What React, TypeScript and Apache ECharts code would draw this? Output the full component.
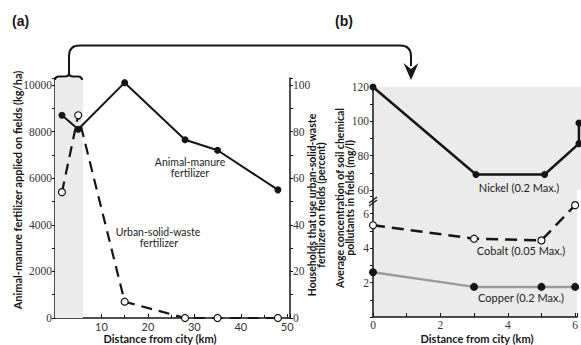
import React, { useEffect, useRef } from 'react';
import * as echarts from 'echarts';

// ---- Panel (a) data ----
const distA = [1.5, 5, 15, 28, 35, 48];
const manureKgHa = [8700, 8100, 10100, 7650, 7200, 5500];
const urbanWastePct = [54, 87, 7, 0, 0, 0];
const shadeA = [0, 6];

// ---- Panel (b) data ----
const distNickel = [0, 3, 5, 6, 6];
const nickel = [120, 69, 69, 87, 99];
const distB = [0, 3, 5, 6];
const cobalt = [5.33, 4.55, 4.45, 6.5];
const copper = [2.6, 1.75, 1.75, 1.75];

const labelsA_left = [0, 2000, 4000, 6000, 8000, 10000];
const labelsA_right = [0, 20, 40, 60, 80, 100];
const labelsA_x = [10, 20, 30, 40, 50];
const labelsB_upper = [60, 80, 100, 120];
const labelsB_lower = [2, 4, 6];
const labelsB_x = [0, 2, 4, 6];

const SANS = "Lato, 'Open Sans', 'Noto Sans', sans-serif";
const SERIF = "'Liberation Serif', 'DejaVu Serif', serif";
const INK = '#151515';
const SHADE = '#ebebeb';

const pick = (list: number[]) => (v: number) =>
  list.some((x) => Math.abs(x - v) < 1e-6) ? String(v) : '';

const axisLine = { show: true, lineStyle: { color: INK, width: 1.5 } };

echarts.graphic.registerShape(
  'braceConnector',
  echarts.graphic.extendPath(
    'M55,80 Q55,76.5 59,76.5 L65,76.5 Q69,76.5 69,73 Q69,76.5 73,76.5 L78,76.5 Q82,76.5 82,80 M69,73 L69,56 Q69,45.5 79.5,45.5 L400,45.5 Q411,45.5 411,56 L411,66',
    {}
  ) as any
);

const note = (text: string, x: number, y: number, size = 11) => ({
  type: 'text', x, y, z: 20,
  style: { text, fontFamily: SANS, fontSize: size, fill: '#222', align: 'center', verticalAlign: 'middle' },
});

const vTitle = (text: string, x: number, y: number, size = 10.5) => ({
  type: 'text', x, y, rotation: Math.PI / 2, z: 20,
  style: { text, fontFamily: SANS, fontWeight: 'bold', fontSize: size, fill: INK, align: 'center', verticalAlign: 'middle' },
});

export default function App() {
  const ref = useRef<HTMLDivElement>(null);
  useEffect(() => {
    if (!ref.current) return;
    const chart = echarts.init(ref.current, undefined, { renderer: 'svg' });
    const option: any = {
      animation: false,
      backgroundColor: '#ffffff',
      grid: [
        { left: 55, top: 78, width: 235, height: 240 },
        { left: 373, top: 87, width: 208, height: 103, show: true, backgroundColor: SHADE, borderWidth: 0 },
        { left: 373, top: 190, width: 208, height: 127, show: true, backgroundColor: SHADE, borderWidth: 0 },
      ],
      xAxis: [
        {
          gridIndex: 0, type: 'value', min: 0, max: 50.6, interval: 10,
          axisLine, splitLine: { show: false },
          axisTick: { show: true, inside: true, length: 4, lineStyle: { color: INK } },
          minorTick: { show: true, splitNumber: 2, length: 3, lineStyle: { color: INK } },
          axisLabel: { margin: 3, fontFamily: SANS, fontSize: 11, color: '#333', formatter: pick(labelsA_x) },
        },
        { gridIndex: 1, type: 'value', min: 0, max: 6.06, show: false },
        {
          gridIndex: 2, type: 'value', min: 0, max: 6.06, interval: 1,
          axisLine, splitLine: { show: false },
          axisTick: { show: true, inside: true, length: 4, lineStyle: { color: INK } },
          axisLabel: { margin: 2, fontFamily: SERIF, fontSize: 11.5, color: '#333', formatter: pick(labelsB_x) },
        },
      ],
      yAxis: [
        {
          gridIndex: 0, type: 'value', position: 'left', min: 0, max: 10300, interval: 1000,
          axisLine, splitLine: { show: false },
          axisTick: { show: true, length: 3, lineStyle: { color: INK } },
          axisLabel: { margin: 3, fontFamily: SERIF, fontSize: 11.5, color: '#333', formatter: pick(labelsA_left) },
        },
        {
          gridIndex: 0, type: 'value', position: 'right', min: 0, max: 103, interval: 10,
          axisLine, splitLine: { show: false },
          axisTick: { show: true, length: 3, lineStyle: { color: INK } },
          axisLabel: { margin: 3, fontFamily: SERIF, fontSize: 11.5, color: '#333', formatter: pick(labelsA_right) },
        },
        {
          gridIndex: 1, type: 'value', position: 'left', min: 60, max: 120, interval: 10,
          axisLine, splitLine: { show: false },
          axisTick: { show: true, length: 3, lineStyle: { color: INK } },
          axisLabel: { margin: 4, fontFamily: SERIF, fontSize: 11.5, color: '#333', formatter: pick(labelsB_upper) },
        },
        {
          gridIndex: 2, type: 'value', position: 'left', min: 0, max: 7.38, interval: 1,
          axisLine, splitLine: { show: false },
          axisTick: { show: true, length: 3, lineStyle: { color: INK } },
          axisLabel: { margin: 4, fontFamily: SERIF, fontSize: 11.5, color: '#333', formatter: pick(labelsB_lower) },
        },
      ],
      series: [
        {
          name: 'Animal-manure fertilizer', type: 'line', xAxisIndex: 0, yAxisIndex: 0,
          data: distA.map((d, i) => [d, manureKgHa[i]]),
          symbol: 'circle', symbolSize: 7,
          lineStyle: { color: INK, width: 2 }, itemStyle: { color: INK }, z: 4,
          markArea: {
            silent: true, itemStyle: { color: SHADE },
            data: [[{ xAxis: shadeA[0] }, { xAxis: shadeA[1] }]],
          },
        },
        {
          name: 'Urban-solid-waste fertilizer', type: 'line', xAxisIndex: 0, yAxisIndex: 1,
          data: distA.map((d, i) => [d, urbanWastePct[i]]),
          symbol: 'circle', symbolSize: 7,
          lineStyle: { color: INK, width: 2.2, type: [11, 7] },
          itemStyle: { color: '#ffffff', borderColor: INK, borderWidth: 1.2 }, z: 5,
        },
        {
          name: 'Nickel', type: 'line', xAxisIndex: 1, yAxisIndex: 2, clip: false,
          data: distNickel.map((d, i) => [d, nickel[i]]),
          symbol: 'circle', symbolSize: 7,
          lineStyle: { color: INK, width: 2.5 }, itemStyle: { color: INK },
        },
        {
          name: 'Copper', type: 'line', xAxisIndex: 2, yAxisIndex: 3, clip: false,
          data: distB.map((d, i) => [d, copper[i]]),
          symbol: 'circle', symbolSize: 8,
          lineStyle: { color: '#9a9a9a', width: 2.5 }, itemStyle: { color: INK },
        },
        {
          name: 'Cobalt', type: 'line', xAxisIndex: 2, yAxisIndex: 3, clip: false,
          data: distB.map((d, i) => [d, cobalt[i]]),
          symbol: 'circle', symbolSize: 7,
          lineStyle: { color: INK, width: 2.5, type: [12, 7] },
          itemStyle: { color: '#ffffff', borderColor: INK, borderWidth: 1.2 },
        },
      ],
      graphic: [
        { type: 'braceConnector', x: 0, y: 0, scaleX: 1, scaleY: 1, z: 20, style: { stroke: INK, lineWidth: 2, fill: 'none' } },
        { type: 'polygon', z: 20, shape: { points: [[403.5, 63], [411, 69], [418.5, 63], [411, 80]] }, style: { fill: INK } },
        { type: 'polyline', z: 20, shape: { points: [[369, 203], [377, 197]] }, style: { stroke: INK, lineWidth: 1.2, fill: 'none' } },
        { type: 'polyline', z: 20, shape: { points: [[369, 206], [377, 200]] }, style: { stroke: INK, lineWidth: 1.2, fill: 'none' } },
        { type: 'text', x: 12, y: 21, z: 20, style: { text: '(a)', fontFamily: "'Liberation Sans', Arial, sans-serif", fontWeight: 'bold', fontSize: 14, fill: INK, align: 'left', verticalAlign: 'middle' } },
        { type: 'text', x: 335, y: 21, z: 20, style: { text: '(b)', fontFamily: "'Liberation Sans', Arial, sans-serif", fontWeight: 'bold', fontSize: 14, fill: INK, align: 'left', verticalAlign: 'middle' } },
        note('Animal-manure', 190, 161.5, 10.5),
        note('fertilizer', 190, 172.5, 10.5),
        note('Urban-solid-waste', 158, 231.5, 10.5),
        note('fertilizer', 159, 242.5, 10.5),
        note('Nickel (0.2 Max.)', 519, 187),
        note('Cobalt (0.05 Max.)', 521, 250),
        note('Copper (0.2 Max.)', 521, 297),
        vTitle('Animal-manure fertilizer applied on fields (kg/ha)', 17, 190, 11),
        vTitle('Households that use urban-solid-waste', 311.5, 205),
        vTitle('fertilizer on fields (percent)', 320.5, 205),
        vTitle('Average concentration of soil chemical', 340, 198),
        vTitle('pollutants in fields (mg/l)', 350, 198),
        { type: 'text', x: 160, y: 338, z: 20, style: { text: 'Distance from city (km)', fontFamily: SANS, fontWeight: 'bold', fontSize: 11, fill: INK, align: 'center', verticalAlign: 'middle' } },
        { type: 'text', x: 477, y: 338, z: 20, style: { text: 'Distance from city (km)', fontFamily: SANS, fontWeight: 'bold', fontSize: 11, fill: INK, align: 'center', verticalAlign: 'middle' } },
      ],
    };
    chart.setOption(option);
    return () => chart.dispose();
  }, []);
  return <div ref={ref} style={{ position: 'fixed', left: 0, top: 0, width: 581, height: 345 }} />;
}
